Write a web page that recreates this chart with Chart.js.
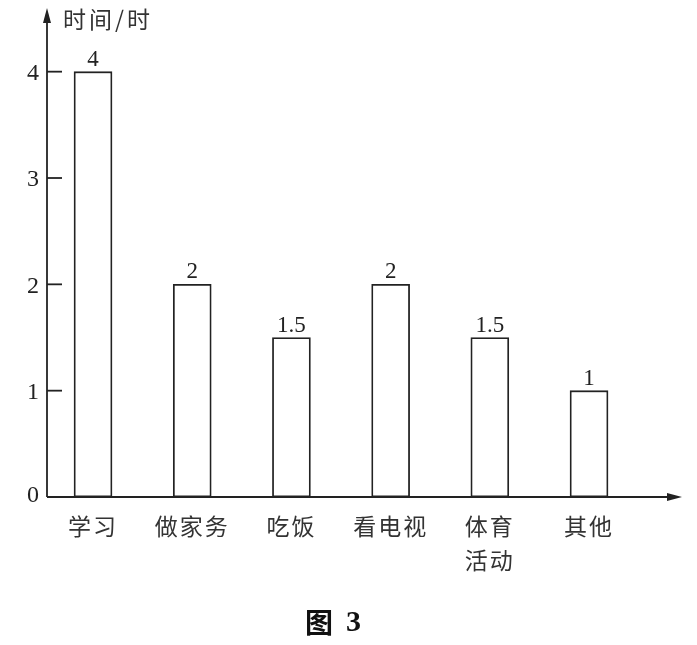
<!DOCTYPE html>
<html>
<head>
<meta charset="utf-8">
<script src="https://cdn.jsdelivr.net/npm/chart.js@4"></script>
<style>
  html, body { margin: 0; padding: 0; background: #fff; }
  #wrap { width: 697px; height: 645px; }
</style>
</head>
<body>
<div id="wrap"><canvas id="chart1"></canvas></div>
<script>
const categories = ["学习", "做家务", "吃饭", "看电视", ["体育", "活动"], "其他"];
const hours = [4, 2, 1.5, 2, 1.5, 1];
const yTicks = [0, 1, 2, 3, 4];
const axisTitle = "时间/时";
const caption = "图";
const captionNum = "3";

const ink = "#222";
const cjk = "'Noto Sans CJK SC', 'Noto Sans', sans-serif";
const serif = "'Liberation Serif', 'DejaVu Serif', serif";

// dessine les axes avec flèches, graduations et textes
const axesPlugin = {
  id: "axes",
  afterDraw(chart) {
    const ctx = chart.ctx;
    const x = chart.scales.x;
    const y = chart.scales.y;
    const x0 = x.left;
    const y0 = y.getPixelForValue(0);
    const top = y.top;
    const right = x.right;

    ctx.save();
    ctx.strokeStyle = ink;
    ctx.fillStyle = ink;
    ctx.lineWidth = 1.8;

    // axe vertical
    ctx.beginPath();
    ctx.moveTo(x0, y0);
    ctx.lineTo(x0, top + 8);
    ctx.stroke();
    ctx.beginPath();
    ctx.moveTo(x0, top - 2);
    ctx.lineTo(x0 - 4, top + 13);
    ctx.lineTo(x0 + 4, top + 13);
    ctx.closePath();
    ctx.fill();

    // axe horizontal
    ctx.beginPath();
    ctx.moveTo(x0, y0);
    ctx.lineTo(right - 8, y0);
    ctx.stroke();
    ctx.beginPath();
    ctx.moveTo(right + 2, y0);
    ctx.lineTo(right - 13, y0 - 4);
    ctx.lineTo(right - 13, y0 + 4);
    ctx.closePath();
    ctx.fill();

    // graduations et étiquettes de l'axe y
    ctx.font = "24px " + serif;
    ctx.textAlign = "right";
    ctx.textBaseline = "middle";
    yTicks.forEach((v) => {
      const py = y.getPixelForValue(v);
      if (v > 0) {
        ctx.beginPath();
        ctx.moveTo(x0, py);
        ctx.lineTo(x0 + 15, py);
        ctx.stroke();
      }
      ctx.fillText(String(v), x0 - 8, py + (v === 0 ? -1 : 2));
    });

    // valeurs au-dessus des barres
    ctx.textAlign = "center";
    ctx.textBaseline = "alphabetic";
    ctx.font = "23px " + serif;
    hours.forEach((v, i) => {
      const px = x.getPixelForValue(i);
      const py = y.getPixelForValue(v);
      ctx.fillText(String(v), px, py - 6);
    });

    // catégories
    ctx.font = "23px " + cjk;
    ctx.fillStyle = "#333";
    ctx.letterSpacing = "2px";
    ctx.textBaseline = "middle";
    categories.forEach((c, i) => {
      const px = x.getPixelForValue(i);
      const lines = Array.isArray(c) ? c : [c];
      lines.forEach((l, j) => {
        ctx.fillText(l, px, y0 + 29 + j * 34);
      });
    });

    // titre de l'axe
    ctx.textAlign = "left";
    ctx.letterSpacing = "3px";
    ctx.fillText(axisTitle, x0 + 16, top + 9);
    ctx.letterSpacing = "0px";

    // légende de la figure
    ctx.fillStyle = "#111";
    ctx.font = "bold 28px " + cjk;
    ctx.textAlign = "left";
    ctx.fillText(caption, 305, 622);
    ctx.font = "bold 30px " + serif;
    ctx.fillText(captionNum, 346, 623);
    ctx.restore();
  },
};

const ctx = document.getElementById("chart1");

const chart = new Chart(ctx, {
  type: "bar",
  data: {
    datasets: [
      {
        label: "时间",
        data: hours.map((h, i) => ({ x: i, y: h })),
        backgroundColor: "#ffffff",
        borderColor: ink,
        borderWidth: 1.8,
        borderSkipped: false,
        barThickness: 38,
      },
    ],
  },
  options: {
    responsive: true,
    maintainAspectRatio: false,
    animation: false,
    layout: {
      padding: { left: 47, top: 10, right: 17, bottom: 148 },
    },
    scales: {
      x: {
        type: "linear",
        display: false,
        offset: false,
        min: -0.464,
        max: 5.917,
      },
      y: {
        display: false,
        min: 0,
        max: 4.58,
      },
    },
    plugins: {
      legend: { display: false },
      tooltip: { enabled: false },
    },
  },
  plugins: [axesPlugin],
});
</script>
</body>
</html>
